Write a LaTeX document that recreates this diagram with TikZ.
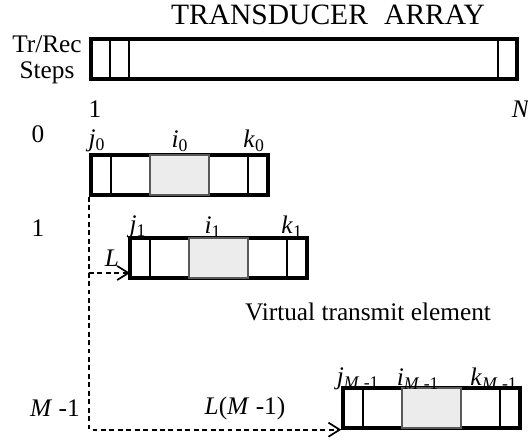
\documentclass[tikz,border=0pt]{standalone}
\usepackage{fontspec}
\setmainfont{Liberation Serif}
\usetikzlibrary{arrows.meta}

% one step of the aperture: name, left, top
\newcommand{\stepbox}[3]{%
    \draw[cell] (#2+20,#3) -- (#2+20,#3+40) (#2+157,#3) -- (#2+157,#3+40);
    \node[boxframe, minimum width=4.425cm] (#1) at (#2+88.5,#3+20) {};
    \draw[shadecell] (#2+59,#3) rectangle (#2+118,#3+40);
}

\begin{document}
\begin{tikzpicture}[x=0.025cm, y=-0.025cm,
    font=\fontsize{18}{21}\selectfont,
    boxframe/.style={draw, line width=2.4pt, inner sep=0pt, minimum height=1cm},
    cell/.style={line width=1.1pt},
    shadecell/.style={fill=gray!15, draw=gray!70!black, line width=1.1pt},
    dasharrow/.style={dash pattern=on 3.5pt off 2.5pt, line width=1.2pt,
                      -{Straight Barb[length=8pt,width=10pt]}}]

    \useasboundingbox (0,0) rectangle (528,441);

    % transducer array
    \node[font=\fontsize{21}{24}\selectfont] (title) at (328,15) {TRANSDUCER\hspace{0.55em}ARRAY};
    \node[align=center, font=\fontsize{18}{18.5}\selectfont] (steps) at (47,60) {Tr/Rec\\Steps};
    \draw[cell] (110,39) -- (110,79) (129,39) -- (129,79) (498,39) -- (498,79);
    \node[boxframe, minimum width=10.65cm] (array) at (304,59) {};
    \node (first) at (95,109) {1};
    \node (last) at (521,109) {\textit{N}};

    % step numbers
    \node (s0) at (38,134) {0};
    \node (s1) at (38,228) {1};
    \node (sM) at (55,408) {\textit{M} -1};

    % apertures
    \stepbox{box0}{91}{155}
    \stepbox{box1}{130}{238}
    \stepbox{boxM}{343}{388}

    \node (j0) at (97,141) {\textit{j}\textsubscript{0}};
    \node (i0) at (180,141) {\textit{i}\textsubscript{0}};
    \node (k0) at (254,141) {\textit{k}\textsubscript{0}};
    \node (j1) at (138,227) {\textit{j}\textsubscript{1}};
    \node (i1) at (213,227) {\textit{i}\textsubscript{1}};
    \node (k1) at (292,227) {\textit{k}\textsubscript{1}};
    \node (jM) at (358,379) {\textit{j}\textsubscript{\textit{M} -1}};
    \node (iM) at (418,379) {\textit{i}\textsubscript{\textit{M} -1}};
    \node (kM) at (494,379) {\textit{k}\textsubscript{\textit{M} -1}};

    \node (virt) at (368,312) {Virtual transmit element};

    % shifts
    \coordinate (hit1) at (130,273);
    \draw[dasharrow] (box0.south west) |- (hit1);
    \draw[dasharrow] (box0.south west) |- (boxM.south west);
    \node (shift1) at (112,258) {\textit{L}};
    \node (shiftM) at (245,408) {\textit{L}(\textit{M} -1)};

\end{tikzpicture}
\end{document}
